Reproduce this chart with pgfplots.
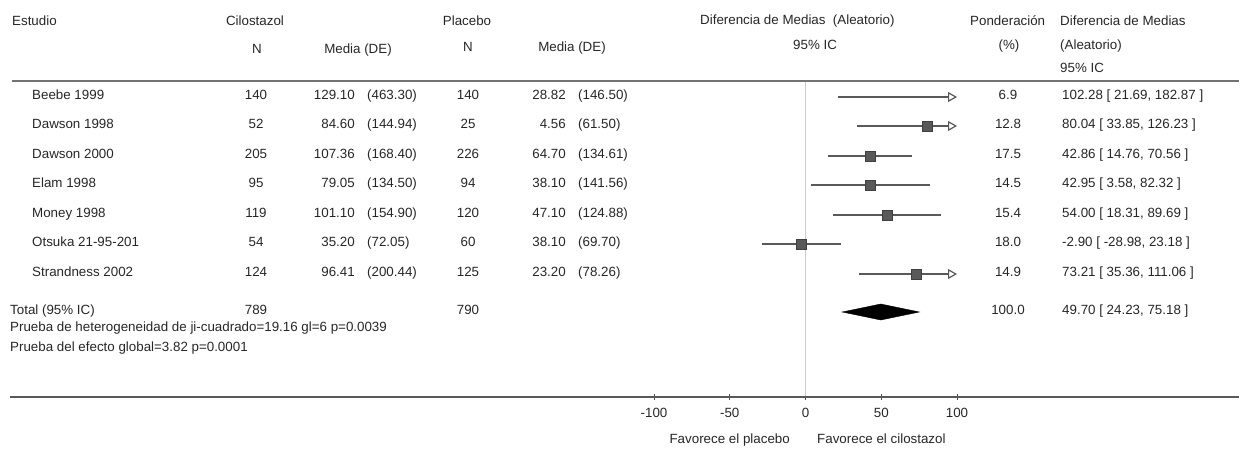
\documentclass[border=0pt]{standalone}
\usepackage{pgfplots}
\pgfplotsset{compat=1.18}
\usepackage{fontspec}
\setmainfont{Liberation Sans}
\usetikzlibrary{arrows.meta}
\newcommand\fs{\fontsize{13.4}{15}\selectfont}
\newcommand\row[9]{%
  \node[anchor=mid west] at (32bp,#1bp) {#2};
  \node[anchor=mid] at (256bp,#1bp) {#3};
  \node[anchor=mid east] at (355bp,#1bp) {#4};
  \node[anchor=mid west] at (367bp,#1bp) {(#5)};
  \node[anchor=mid] at (468bp,#1bp) {#6};
  \node[anchor=mid east] at (566bp,#1bp) {#7};
  \node[anchor=mid west] at (578bp,#1bp) {(#8)};
  \node[anchor=mid] at (1008bp,#1bp) {#9};
}
\begin{document}
\begin{tikzpicture}[font=\fs, every node/.style={inner sep=0pt, text=black!85}]
\useasboundingbox (0,0) rectangle (1239bp,452bp);
% header
\node[anchor=mid west] at (12bp,429bp) {Estudio};
\node[anchor=mid] at (255bp,429bp) {Cilostazol};
\node[anchor=mid] at (257bp,401bp) {N};
\node[anchor=mid] at (358bp,401bp) {Media (DE)};
\node[anchor=mid] at (467bp,429bp) {Placebo};
\node[anchor=mid] at (468bp,403bp) {N};
\node[anchor=mid] at (572bp,403bp) {Media (DE)};
\node[anchor=mid west] at (700bp,430bp) {Diferencia de Medias \ (Aleatorio)};
\node[anchor=mid west] at (793bp,405bp) {95\% IC};
\node[anchor=mid west] at (970bp,429bp) {Ponderación};
\node[anchor=mid] at (1009bp,405bp) {(\%)};
\node[anchor=mid west] at (1060bp,429bp) {Diferencia de Medias};
\node[anchor=mid west] at (1060bp,405bp) {(Aleatorio)};
\node[anchor=mid west] at (1060bp,382bp) {95\% IC};
\draw[line width=2.5bp, black!55] (12bp,371bp) -- (1239bp,371bp);
% rows
\row{355}{Beebe 1999}{140}{129.10}{463.30}{140}{28.82}{146.50}{6.9}
\row{326}{Dawson 1998}{52}{84.60}{144.94}{25}{4.56}{61.50}{12.8}
\row{296}{Dawson 2000}{205}{107.36}{168.40}{226}{64.70}{134.61}{17.5}
\row{267}{Elam 1998}{95}{79.05}{134.50}{94}{38.10}{141.56}{14.5}
\row{237}{Money 1998}{119}{101.10}{154.90}{120}{47.10}{124.88}{15.4}
\row{208}{Otsuka 21-95-201}{54}{35.20}{72.05}{60}{38.10}{69.70}{18.0}
\row{178}{Strandness 2002}{124}{96.41}{200.44}{125}{23.20}{78.26}{14.9}
\node[anchor=mid west] at (1062bp,355bp) {102.28 [ 21.69, 182.87 ]};
\node[anchor=mid west] at (1062bp,326bp) {80.04 [ 33.85, 126.23 ]};
\node[anchor=mid west] at (1062bp,296bp) {42.86 [ 14.76, 70.56 ]};
\node[anchor=mid west] at (1062bp,267bp) {42.95 [ 3.58, 82.32 ]};
\node[anchor=mid west] at (1062bp,237bp) {54.00 [ 18.31, 89.69 ]};
\node[anchor=mid west] at (1062bp,208bp) {-2.90 [ -28.98, 23.18 ]};
\node[anchor=mid west] at (1062bp,178bp) {73.21 [ 35.36, 111.06 ]};
% total
\node[anchor=mid west] at (10bp,140bp) {Total (95\% IC)};
\node[anchor=mid] at (256bp,140bp) {789};
\node[anchor=mid] at (468bp,140bp) {790};
\node[anchor=mid] at (1008bp,140bp) {100.0};
\node[anchor=mid west] at (1062bp,140bp) {49.70 [ 24.23, 75.18 ]};
\node[anchor=mid west] at (10bp,123bp) {Prueba de heterogeneidad de ji-cuadrado=19.16 gl=6 p=0.0039};
\node[anchor=mid west] at (10bp,103bp) {Prueba del efecto global=3.82 p=0.0001};
% plot
\begin{axis}[
  at={(654bp,55bp)}, anchor=south west, scale only axis,
  width=303bp, height=316bp,
  xmin=-100, xmax=100, ymin=81, ymax=397, y dir=reverse,
  axis x line*=bottom, axis y line=none, x axis line style={draw=none},
  xtick={-100,-50,0,50,100}, ytick=\empty,
  tick align=center, major tick length=6bp,
  x tick style={black!70, line width=1bp},
  xticklabel style={font=\fs, text=black!85, inner sep=0pt, yshift=-8bp},
  /pgf/number format/assume math mode=true,
  clip=false,
  ci/.style={line width=1.8bp, black!65},
  ciar/.style={ci, -{Triangle[open, length=9bp, width=10bp, line width=1.2bp]}},
]
\draw[black!20, line width=0.8bp] (axis cs:0,82) -- (axis cs:0,397);
\addplot[ciar] coordinates {(21.69,97) (100,97)};
\addplot[ciar] coordinates {(33.85,126) (100,126)};
\addplot[ci] coordinates {(14.76,156) (70.56,156)};
\addplot[ci] coordinates {(3.58,185) (82.32,185)};
\addplot[ci] coordinates {(18.31,215) (89.69,215)};
\addplot[ci] coordinates {(-28.98,244) (23.18,244)};
\addplot[ciar] coordinates {(35.36,274) (100,274)};
\addplot[only marks, mark=square*, mark size=5bp, mark options={draw=black!75, fill=black!65}]
  coordinates {(80.04,126) (42.86,156) (42.95,185) (54.00,215) (-2.90,244) (73.21,274)};
\addplot[fill=black, draw=black] coordinates {(24.23,312) (49.70,304) (75.18,312) (49.70,320)} -- cycle;
\end{axis}
\draw[line width=2.5bp, black!65] (10bp,55bp) -- (1239bp,55bp);
\node[anchor=mid east] at (790bp,11bp) {Favorece el placebo};
\node[anchor=mid west] at (817bp,11bp) {Favorece el cilostazol};
\end{tikzpicture}
\end{document}
